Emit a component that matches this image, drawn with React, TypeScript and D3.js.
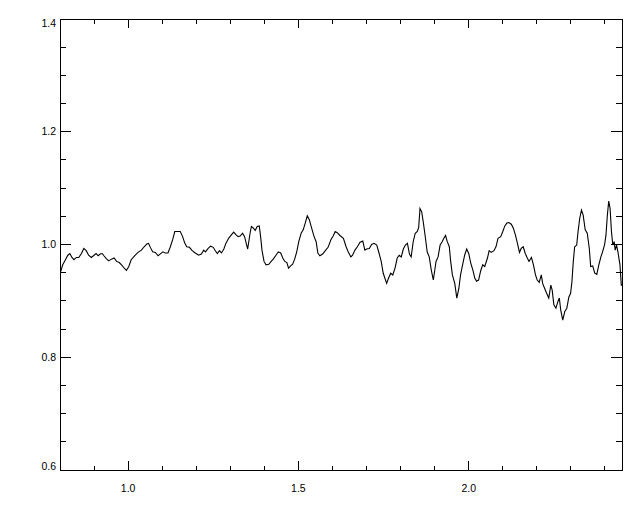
import React from "react";
import * as d3 from "d3";

const xValues: number[] = [
  0.802, 0.808, 0.816, 0.823, 0.829, 0.835, 0.841, 0.848, 0.855, 0.863,
  0.870, 0.877, 0.884, 0.892, 0.900, 0.906, 0.912, 0.918, 0.924, 0.929,
  0.936, 0.943, 0.951, 0.959, 0.966, 0.974, 0.982, 0.990, 0.995, 1.002,
  1.009, 1.019, 1.029, 1.039, 1.047, 1.055, 1.060, 1.066, 1.072, 1.080,
  1.088, 1.094, 1.102, 1.109, 1.117, 1.124, 1.131, 1.137, 1.146, 1.153,
  1.160, 1.166, 1.172, 1.180, 1.188, 1.197, 1.207, 1.215, 1.222, 1.227,
  1.235, 1.242, 1.250, 1.256, 1.262, 1.268, 1.274, 1.281, 1.287, 1.295,
  1.303, 1.310, 1.317, 1.323, 1.329, 1.336, 1.342, 1.348, 1.351, 1.358,
  1.362, 1.368, 1.373, 1.379, 1.385, 1.389, 1.393, 1.399, 1.405, 1.413,
  1.420, 1.426, 1.434, 1.441, 1.448, 1.454, 1.460, 1.466, 1.471, 1.477,
  1.483, 1.489, 1.495, 1.501, 1.508, 1.514, 1.520, 1.526, 1.532, 1.538,
  1.546, 1.552, 1.557, 1.563, 1.571, 1.579, 1.587, 1.595, 1.602, 1.608,
  1.614, 1.622, 1.632, 1.640, 1.646, 1.654, 1.659, 1.666, 1.673, 1.681,
  1.689, 1.695, 1.700, 1.708, 1.715, 1.722, 1.730, 1.737, 1.743, 1.749,
  1.759, 1.765, 1.771, 1.777, 1.784, 1.790, 1.796, 1.802, 1.808, 1.814,
  1.820, 1.826, 1.831, 1.837, 1.843, 1.849, 1.853, 1.857, 1.862, 1.867,
  1.873, 1.878, 1.884, 1.890, 1.896, 1.900, 1.904, 1.910, 1.916, 1.922,
  1.927, 1.932, 1.937, 1.943, 1.947, 1.952, 1.959, 1.965, 1.971, 1.976,
  1.982, 1.988, 1.994, 2.000, 2.006, 2.012, 2.018, 2.023, 2.029, 2.035,
  2.041, 2.047, 2.055, 2.060, 2.066, 2.074, 2.080, 2.086, 2.094, 2.100,
  2.106, 2.112, 2.118, 2.125, 2.131, 2.137, 2.143, 2.149, 2.154, 2.160,
  2.166, 2.172, 2.177, 2.184, 2.190, 2.196, 2.201, 2.207, 2.213, 2.217,
  2.223, 2.229, 2.235, 2.241, 2.245, 2.250, 2.256, 2.262, 2.266, 2.270,
  2.276, 2.282, 2.288, 2.294, 2.299, 2.303, 2.307, 2.311, 2.317, 2.321,
  2.326, 2.331, 2.336, 2.342, 2.348, 2.354, 2.358, 2.364, 2.370, 2.376,
  2.382, 2.388, 2.393, 2.399, 2.403, 2.407, 2.411, 2.415, 2.419, 2.423,
  2.427, 2.430, 2.434, 2.438, 2.444, 2.448, 2.452,
];

const yValues: number[] = [
  0.952, 0.964, 0.973, 0.981, 0.984, 0.977, 0.973, 0.977, 0.977, 0.984,
  0.993, 0.989, 0.981, 0.977, 0.981, 0.984, 0.980, 0.983, 0.984, 0.980,
  0.975, 0.971, 0.974, 0.976, 0.970, 0.968, 0.963, 0.957, 0.954, 0.961,
  0.973, 0.980, 0.986, 0.990, 0.996, 1.001, 1.002, 0.994, 0.987, 0.986,
  0.980, 0.983, 0.987, 0.985, 0.985, 0.996, 1.009, 1.023, 1.023, 1.023,
  1.014, 1.003, 0.996, 0.995, 0.989, 0.985, 0.981, 0.983, 0.990, 0.987,
  0.993, 0.997, 0.995, 0.989, 0.984, 0.989, 0.985, 0.992, 1.002, 1.011,
  1.017, 1.022, 1.017, 1.014, 1.015, 1.020, 1.014, 0.999, 0.992, 1.020,
  1.032, 1.029, 1.025, 1.032, 1.033, 1.014, 0.990, 0.970, 0.964, 0.965,
  0.970, 0.974, 0.981, 0.987, 0.985, 0.976, 0.970, 0.968, 0.958, 0.962,
  0.965, 0.974, 0.987, 1.005, 1.020, 1.026, 1.038, 1.051, 1.044, 1.031,
  1.014, 1.005, 0.985, 0.980, 0.983, 0.989, 0.995, 1.008, 1.015, 1.023,
  1.021, 1.016, 1.011, 0.996, 0.987, 0.978, 0.981, 0.990, 0.996, 1.004,
  1.006, 0.990, 0.992, 0.993, 1.000, 1.002, 0.999, 0.984, 0.970, 0.949,
  0.931, 0.941, 0.949, 0.946, 0.959, 0.976, 0.981, 0.978, 0.992, 0.999,
  1.002, 0.983, 0.978, 1.005, 1.020, 1.023, 1.030, 1.064, 1.058, 1.038,
  1.011, 0.987, 0.978, 0.955, 0.937, 0.953, 0.970, 0.978, 0.999, 1.005,
  1.011, 1.016, 1.005, 0.996, 0.970, 0.946, 0.931, 0.905, 0.922, 0.946,
  0.964, 0.981, 0.992, 0.984, 0.967, 0.955, 0.940, 0.935, 0.937, 0.953,
  0.964, 0.961, 0.976, 0.989, 0.986, 0.989, 0.996, 1.011, 1.014, 1.023,
  1.033, 1.038, 1.039, 1.036, 1.029, 1.017, 1.002, 0.986, 0.993, 0.996,
  0.984, 0.976, 0.970, 0.977, 0.964, 0.946, 0.937, 0.933, 0.946, 0.931,
  0.922, 0.913, 0.905, 0.928, 0.919, 0.893, 0.887, 0.899, 0.905, 0.884,
  0.866, 0.881, 0.887, 0.907, 0.913, 0.934, 0.970, 0.996, 0.999, 1.023,
  1.047, 1.061, 1.052, 1.026, 1.020, 0.993, 0.961, 0.962, 0.949, 0.947,
  0.964, 0.978, 0.987, 1.000, 1.017, 1.052, 1.077, 1.064, 1.023, 0.999,
  1.005, 0.990, 0.999, 0.987, 0.964, 0.928, 0.928,
];

const xDomain: [number, number] = [0.8, 2.45];
const yDomain: [number, number] = [0.6, 1.4];
const xMajorTicks: number[] = [1.0, 1.5, 2.0];
const xMinorTicks: number[] = [0.9, 1.1, 1.2, 1.3, 1.4, 1.6, 1.7, 1.8, 1.9, 2.1, 2.2, 2.3, 2.4];
const xTickLabels: string[] = ["1.0", "1.5", "2.0"];
const yMajorTicks: number[] = [0.6, 0.8, 1.0, 1.2, 1.4];
const yMinorTicks: number[] = [0.65, 0.7, 0.75, 0.85, 0.9, 0.95, 1.05, 1.1, 1.15, 1.25, 1.3, 1.35];
const yTickLabels: string[] = ["0.6", "0.8", "1.0", "1.2", "1.4"];

export default function App() {
  const W = 640, H = 512;
  const left = 60, right = 622, top = 19, bottom = 470;
  const x = d3.scaleLinear().domain(xDomain).range([left, right]);
  const y = d3.scaleLinear().domain(yDomain).range([bottom, top]);
  const pts = xValues.map((v, i) => [v, yValues[i]] as [number, number]);
  const line = d3.line<[number, number]>().x(d => x(d[0])).y(d => y(d[1]))(pts) || "";
  const xMajLen = 9, xMinLen = 4.5, yMajLen = 11, yMinLen = 6;
  const font = "'Liberation Sans', Arial, sans-serif";
  return (
    <svg width={W} height={H} style={{ position: "absolute", left: 0, top: 0, background: "#fff" }}>
      <rect x={0} y={0} width={W} height={H} fill="#fff" />
      <defs>
        <clipPath id="plotclip">
          <rect x={left} y={top} width={right - left} height={bottom - top} />
        </clipPath>
      </defs>
      <path d={line} fill="none" stroke="#000" strokeWidth={1.1} clipPath="url(#plotclip)" />
      <g stroke="#000" strokeWidth={1} shapeRendering="crispEdges">
        <rect x={left} y={top} width={right - left} height={bottom - top} fill="none" />
        {xMajorTicks.map(t => (
          <g key={"xM" + t}>
            <line x1={x(t)} x2={x(t)} y1={bottom} y2={bottom - xMajLen} />
            <line x1={x(t)} x2={x(t)} y1={top} y2={top + xMajLen} />
          </g>
        ))}
        {xMinorTicks.map(t => (
          <g key={"xm" + t}>
            <line x1={x(t)} x2={x(t)} y1={bottom} y2={bottom - xMinLen} />
            <line x1={x(t)} x2={x(t)} y1={top} y2={top + xMinLen} />
          </g>
        ))}
        {yMajorTicks.map(t => (
          <g key={"yM" + t}>
            <line x1={left} x2={left + yMajLen} y1={y(t)} y2={y(t)} />
            <line x1={right} x2={right - yMajLen} y1={y(t)} y2={y(t)} />
          </g>
        ))}
        {yMinorTicks.map(t => (
          <g key={"ym" + t}>
            <line x1={left} x2={left + yMinLen} y1={y(t)} y2={y(t)} />
            <line x1={right} x2={right - yMinLen} y1={y(t)} y2={y(t)} />
          </g>
        ))}
      </g>
      <g fontFamily={font} fontSize={10.5} fill="#000">
        {xMajorTicks.map((t, i) => (
          <text key={"xl" + t} x={x(t)} y={bottom + 22} textAnchor="middle">{xTickLabels[i]}</text>
        ))}
        {yMajorTicks.map((t, i) => (
          <text key={"yl" + t} x={left - 4} y={Math.min(Math.max(y(t), top + 4), bottom - 4)} dy="0.35em" textAnchor="end">{yTickLabels[i]}</text>
        ))}
      </g>
    </svg>
  );
}
